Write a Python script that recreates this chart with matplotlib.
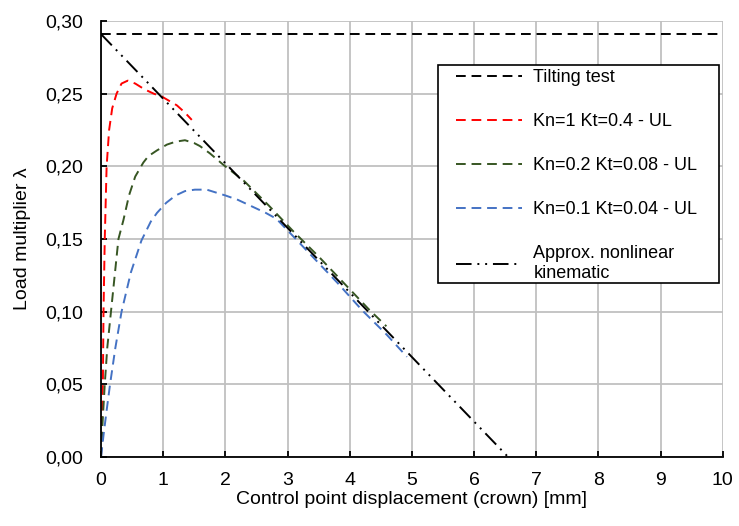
import matplotlib.pyplot as plt
from matplotlib.patches import Rectangle
from matplotlib.ticker import MultipleLocator, FuncFormatter

plt.rcParams['font.family'] = ['Liberation Sans', 'DejaVu Sans']

# Tilting test (horizontal) and approximate nonlinear kinematic line
tilt_x = [0, 10]
tilt_y = [0.291, 0.291]
kin_x = [0, 6.55]
kin_y = [0.291, 0.0]

# Kn=1 Kt=0.4 - UL
red_x = [0, 0.01, 0.03, 0.04, 0.06, 0.09, 0.13, 0.18, 0.25, 0.33, 0.43, 0.55,
         0.70, 0.85, 0.98, 1.10, 1.22, 1.35, 1.46]
red_y = [0, 0.020, 0.050, 0.100, 0.150, 0.200, 0.225, 0.240, 0.250, 0.257, 0.259,
         0.257, 0.253, 0.250, 0.248, 0.245, 0.242, 0.237, 0.232]

# Kn=0.2 Kt=0.08 - UL
green_x = [0, 0.02, 0.06, 0.10, 0.16, 0.22, 0.28, 0.36, 0.45, 0.55, 0.68, 0.76,
           0.90, 1.06, 1.20, 1.35, 1.50, 1.59, 1.75, 1.97, 2.30, 2.70, 3.10,
           3.50, 3.90, 4.30, 4.59]
green_y = [0, 0.020, 0.050, 0.075, 0.100, 0.125, 0.150, 0.163, 0.180, 0.193,
           0.2026, 0.207, 0.211, 0.215, 0.217, 0.218, 0.216, 0.214, 0.209,
           0.201, 0.190, 0.173, 0.155, 0.138, 0.120, 0.102, 0.090]

# Kn=0.1 Kt=0.04 - UL
blue_x = [0, 0.04, 0.09, 0.145, 0.23, 0.33, 0.48, 0.65, 0.80, 0.90, 1.05, 1.20,
          1.35, 1.51, 1.70, 1.85, 2.00, 2.20, 2.45, 2.65, 2.82, 3.00, 3.40,
          3.80, 4.20, 4.60, 4.92]
blue_y = [0, 0.015, 0.032, 0.050, 0.075, 0.100, 0.127, 0.149, 0.162, 0.168,
          0.175, 0.180, 0.183, 0.184, 0.184, 0.182, 0.180, 0.177, 0.172, 0.168,
          0.164, 0.156, 0.138, 0.120, 0.101, 0.084, 0.069]

fig = plt.figure(figsize=(7.39, 5.26), dpi=100)
ax = fig.add_axes([0.1367, 0.131, 0.8413, 0.829])

ax.plot(tilt_x, tilt_y, color='black', lw=1.4, dashes=(5, 3), label='Tilting test')
ax.plot(red_x, red_y, color='#ff0000', lw=1.4, dashes=(5, 3), label='Kn=1 Kt=0.4 - UL')
ax.plot(green_x, green_y, color='#375623', lw=1.4, dashes=(5, 3), label='Kn=0.2 Kt=0.08 - UL')
ax.plot(blue_x, blue_y, color='#4472c4', lw=1.4, dashes=(5, 3), label='Kn=0.1 Kt=0.04 - UL')
ax.plot(kin_x, kin_y, color='black', lw=1.4, dashes=(8, 3, 1, 3, 1, 3),
        label='Approx. nonlinear\nkinematic')

ax.set_xlim(0, 10)
ax.set_ylim(0, 0.30)
ax.xaxis.set_major_locator(MultipleLocator(1))
ax.yaxis.set_major_locator(MultipleLocator(0.05))
ax.yaxis.set_major_formatter(FuncFormatter(lambda v, p: f'{v:.2f}'.replace('.', ',')))
ax.grid(True, color='#c0c0c0', lw=1.3)
ax.set_axisbelow(True)
ax.spines['top'].set_visible(False)
ax.spines['right'].set_visible(False)
ax.spines['left'].set_linewidth(1.3)
ax.spines['bottom'].set_linewidth(1.3)
ax.tick_params(direction='in', length=4, width=1.3, labelsize=14)
ax.tick_params(axis='x', pad=11)
ax.tick_params(axis='y', pad=13)

ax.set_xlabel('Control point displacement (crown) [mm]', fontsize=14, labelpad=1)
ax.set_ylabel('Load multiplier λ', fontsize=14, labelpad=10)

# legend box (drawn separately for the wide side margins)
ax.add_patch(Rectangle((0.5418, 0.399), 0.4518, 0.5, transform=ax.transAxes,
                       facecolor='white', edgecolor='black', lw=1.2, zorder=4))
leg = ax.legend(loc='upper left', bbox_to_anchor=(0.5707, 0.890), fontsize=13,
                frameon=False, borderpad=0, borderaxespad=0,
                handlelength=3.65, labelspacing=1.5, handletextpad=0.65)
leg.set_zorder(5)

plt.savefig('out.png', dpi=100)
